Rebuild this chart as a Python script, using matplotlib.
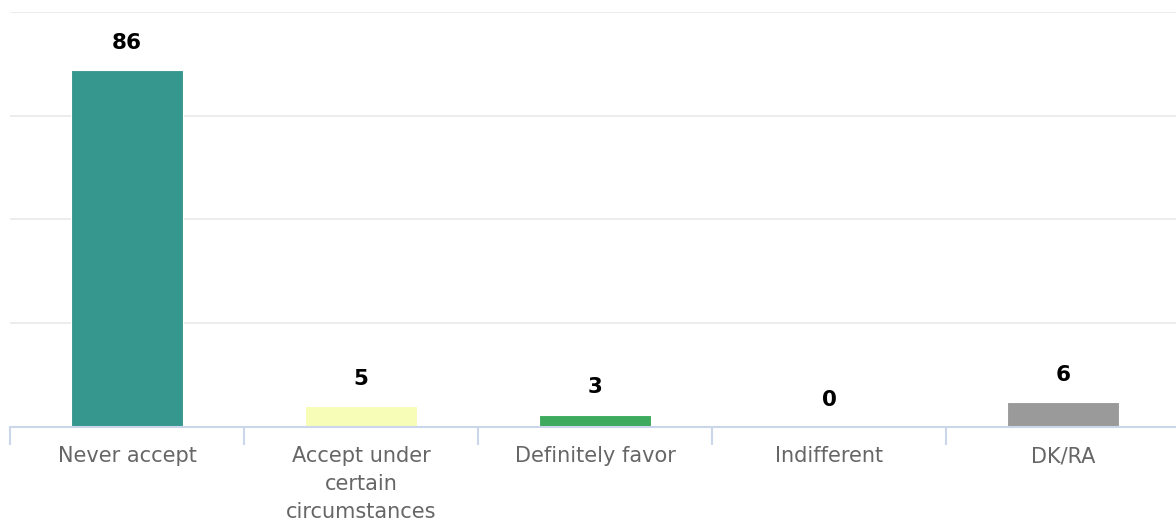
import matplotlib
matplotlib.use("Agg")
import matplotlib.pyplot as plt
import numpy as np

categories = ["Never accept", "Accept under\ncertain\ncircumstances", "Definitely favor", "Indifferent", "DK/RA"]
values = [86, 5, 3, 0, 6]
colors = ["#36978F", "#F7FCB6", "#3DAA5E", "#36978F", "#9A9A9A"]

fig = plt.figure(figsize=(11.76, 5.23), dpi=100)
ax = fig.add_axes([10/1176, (523-427)/523, 1170/1176, (427-12)/523])

x = np.arange(len(categories))
ax.bar(x, values, width=0.48, color=colors, edgecolor="white", linewidth=0.8, zorder=3)
ax.set_xlim(-0.5, len(categories) - 0.5)
ax.set_ylim(0, 100)
ax.set_yticks([0, 25, 50, 75, 100])
ax.yaxis.grid(True, color="#e9e9e9", linewidth=1.2, zorder=0)
ax.tick_params(axis="y", left=False, labelleft=False)
for s in ["left", "right", "top"]:
    ax.spines[s].set_visible(False)
ax.spines["bottom"].set_color("#ccd6eb")
ax.spines["bottom"].set_linewidth(1.5)
ax.spines["bottom"].set_zorder(4)

ax.set_xticks(x)
ax.set_xticklabels(categories, fontsize=15, color="#666666", linespacing=1.5, va="top")
ax.set_xticks(np.arange(-0.5, len(categories) + 0.5, 1), minor=True)
ax.tick_params(axis="x", which="major", length=0, pad=14)
ax.tick_params(axis="x", which="minor", length=13, width=1.5, color="#ccd6eb")

for xi, v in zip(x, values):
    ax.annotate(str(v), (xi, v), xytext=(0, 19.5), textcoords="offset points",
                ha="center", va="center", fontsize=15.5, fontweight="bold", color="black")

fig.savefig("out.png", dpi=100)
